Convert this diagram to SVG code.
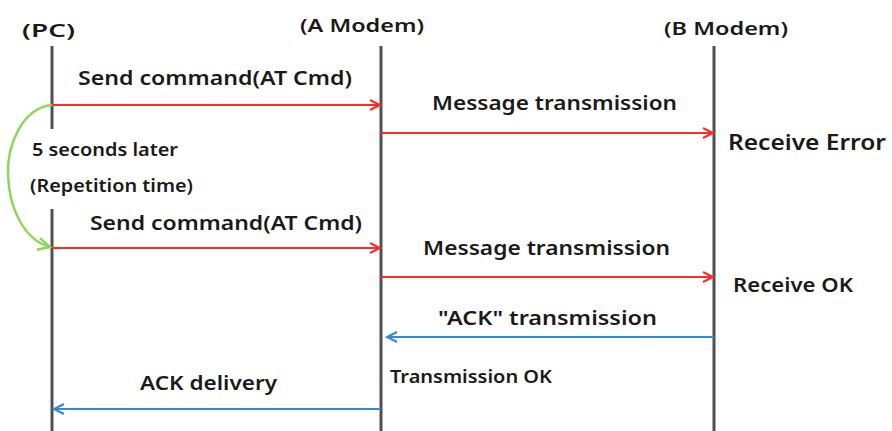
<svg xmlns="http://www.w3.org/2000/svg" width="892" height="431" viewBox="0 0 892 431">
<style>
text{font-family:"Noto Sans","Liberation Sans",sans-serif;font-weight:600;fill:#1a1a1a;}
.t{font-size:19px;}
.s{font-size:17px;}
.life{stroke:#505050;stroke-width:3;fill:none;}
.red{stroke:#ff2a2a;stroke-width:2;fill:none;}
.blue{stroke:#3189d8;stroke-width:2;fill:none;}
.green{stroke:#8ed65a;stroke-width:2.5;fill:none;}
</style>
<defs>
<marker id="ar" markerWidth="14" markerHeight="14" refX="11" refY="6" orient="auto" markerUnits="userSpaceOnUse"><path d="M1,1 L11,6 L1,11" fill="none" stroke="#ff2a2a" stroke-width="2"/></marker>
<marker id="ab" markerWidth="14" markerHeight="14" refX="11" refY="6" orient="auto" markerUnits="userSpaceOnUse"><path d="M1,1 L11,6 L1,11" fill="none" stroke="#3189d8" stroke-width="2"/></marker>
<marker id="ag" markerWidth="16" markerHeight="16" refX="13" refY="7" orient="auto" markerUnits="userSpaceOnUse"><path d="M1,1 L13,7 L1,13" fill="none" stroke="#8ed65a" stroke-width="2.5"/></marker>
</defs>
<g id="pc">
<text x="22" y="37" class="s" textLength="53" lengthAdjust="spacingAndGlyphs">(PC)</text>
<line class="life" x1="52" y1="46" x2="52" y2="129"/>
<line class="life" x1="52" y1="209" x2="52" y2="431"/>
</g>
<g id="amodem">
<text x="300" y="32" class="s" textLength="124" lengthAdjust="spacingAndGlyphs">(A Modem)</text>
<line class="life" x1="381" y1="46" x2="381" y2="431"/>
</g>
<g id="bmodem">
<text x="664" y="35" class="s" textLength="124" lengthAdjust="spacingAndGlyphs">(B Modem)</text>
<line class="life" x1="714" y1="46" x2="714" y2="431"/>
</g>
<g id="connectors">
<line class="red" x1="52" y1="105" x2="380" y2="105" marker-end="url(#ar)"/>
<line class="red" x1="381" y1="133" x2="713" y2="133" marker-end="url(#ar)"/>
<path class="green" d="M52,105 C22,108 7,145 8,175 C9,208 24,240 50,247" marker-end="url(#ag)"/>
<line class="red" x1="52" y1="248" x2="380" y2="248" marker-end="url(#ar)"/>
<line class="red" x1="381" y1="277" x2="713" y2="277" marker-end="url(#ar)"/>
<line class="blue" x1="714" y1="337" x2="387" y2="337" marker-end="url(#ab)"/>
<line class="blue" x1="381" y1="409" x2="54" y2="409" marker-end="url(#ab)"/>
</g>
<g id="labels">
<text x="78" y="85" class="t" textLength="274" lengthAdjust="spacingAndGlyphs">Send command(AT Cmd)</text>
<text x="432" y="110" class="t" textLength="245" lengthAdjust="spacingAndGlyphs">Message transmission</text>
<text x="728" y="150" style="font-size:21px" textLength="158" lengthAdjust="spacingAndGlyphs">Receive Error</text>
<text x="32" y="156" class="s" textLength="146" lengthAdjust="spacingAndGlyphs">5 seconds later</text>
<text x="30" y="192" class="s" textLength="163" lengthAdjust="spacingAndGlyphs">(Repetition time)</text>
<text x="90" y="230" class="t" textLength="272" lengthAdjust="spacingAndGlyphs">Send command(AT Cmd)</text>
<text x="423" y="255" class="t" textLength="247" lengthAdjust="spacingAndGlyphs">Message transmission</text>
<text x="733" y="292" class="t" textLength="120" lengthAdjust="spacingAndGlyphs">Receive OK</text>
<text x="438" y="325" class="t" textLength="219" lengthAdjust="spacingAndGlyphs">"ACK" transmission</text>
<text x="390" y="383" class="s" textLength="162" lengthAdjust="spacingAndGlyphs">Transmission OK</text>
<text x="140" y="390" class="t" textLength="137" lengthAdjust="spacingAndGlyphs">ACK delivery</text>
</g>
</svg>
